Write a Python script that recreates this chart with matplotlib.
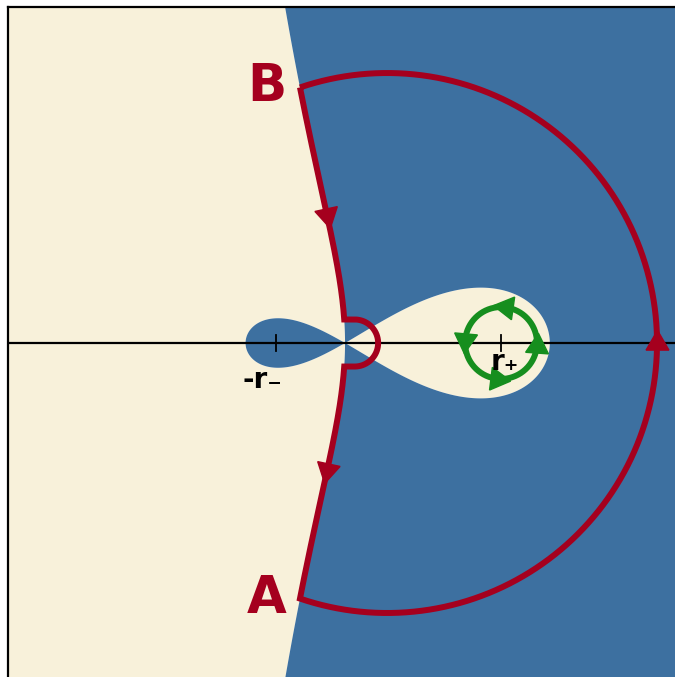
import numpy as np
import matplotlib
matplotlib.use("Agg")
import matplotlib.pyplot as plt

# ---------------- data ----------------
r_plus = 1.0
r_minus = 0.5
x_limits = [-2.006, 1.964]
y_limits = [-1.988, 2.000]
arc_center_x = 0.25
arc_radius = 1.607
indent_center_x = 0.057
indent_radius = 0.14
loop_center_x = 0.9286
loop_radius = 0.214
red_arrow_y = [0.762, -0.756]
green_arrow_angles = [82, 356, 263, 175]
tick_positions = [-0.4125, 0.9286]
tick_labels = ['-r\u208b', 'r\u208a']
tick_label_pos = [(-0.490, -0.268), (0.950, -0.161)]
point_labels = ['B', 'A']
point_label_pos = [(-0.467, 1.440), (-0.464, -1.607)]

cream = '#F8F1DA'
blue = '#3D70A0'
red = '#A5001E'
green = '#168E1E'


def re_tortoise(x, y):
    z = x + 1j * y
    s = r_plus + r_minus
    with np.errstate(divide='ignore', invalid='ignore'):
        v = (np.real(z) + r_plus ** 2 / s * np.log(np.abs(1 - z / r_plus))
             - r_minus ** 2 / s * np.log(np.abs(1 + z / r_minus)))
    return np.clip(np.nan_to_num(v, nan=0.0, posinf=50, neginf=-50), -50, 50)


fig = plt.figure(figsize=(6.75, 6.77), dpi=100)
ax = fig.add_axes([8 / 675, 0, 1 - 8 / 675, 670 / 677])
ax.set_xlim(*x_limits)
ax.set_ylim(*y_limits)

xs = np.linspace(x_limits[0], x_limits[1], 1500)
ys = np.linspace(y_limits[0], y_limits[1], 1500)
X, Y = np.meshgrid(xs, ys)
Z = re_tortoise(X, Y)
ax.contourf(X, Y, Z, levels=[-1e3, 0, 1e3], colors=[cream, blue], antialiased=True, zorder=0)

# axis line and ticks
ax.axhline(0, color='black', lw=1.6, zorder=2)
for t in tick_positions:
    ax.plot([t, t], [-0.045, 0.045], color='black', lw=1.3, zorder=2)

# ----- boundary Re r* = 0 (upper left branch) -----
yy = np.linspace(indent_radius, 2.2, 600)
lo = -0.15 - 0.3 * yy
hi = np.full_like(yy, 0.03)
for _ in range(60):
    mid = 0.5 * (lo + hi)
    neg = re_tortoise(mid, yy) < 0
    lo = np.where(neg, mid, lo)
    hi = np.where(neg, hi, mid)
xx = 0.5 * (lo + hi)
d = np.hypot(xx - arc_center_x, yy) - arc_radius
k = np.argmax(d > 0)
f = -d[k - 1] / (d[k] - d[k - 1])
xB = xx[k - 1] + f * (xx[k] - xx[k - 1])
yB = yy[k - 1] + f * (yy[k] - yy[k - 1])
cx = np.append(xx[:k], xB)
cy = np.append(yy[:k], yB)

thB = np.arctan2(yB, xB - arc_center_x)
t_ind = np.linspace(np.pi / 2, -np.pi / 2, 80)
t_arc = np.linspace(-thB, thB, 400)

px = np.concatenate([cx[::-1], [indent_center_x], indent_center_x + indent_radius * np.cos(t_ind),
                     [indent_center_x], cx, arc_center_x + arc_radius * np.cos(t_arc)])
py = np.concatenate([cy[::-1], [indent_radius], indent_radius * np.sin(t_ind),
                     [-indent_radius], -cy, arc_radius * np.sin(t_arc)])
ax.plot(px, py, color=red, lw=4.3, solid_joinstyle='miter', solid_capstyle='butt', zorder=3)

# red arrowheads
for ya in red_arrow_y:
    yab = abs(ya)
    xa = np.interp(yab, cy, cx)
    xa_low = np.interp(yab - 0.05, cy, cx)
    xa_high = np.interp(yab + 0.05, cy, cx)
    if ya > 0:
        dx, dy = xa_low - xa_high, -0.1
    else:
        dx, dy = xa_high - xa_low, -0.1
    ang = np.degrees(np.arctan2(dy, dx))
    ax.plot(xa, ya, marker=(3, 0, ang - 90), ms=19, color=red, mec=red, zorder=4)
ax.plot(arc_center_x + arc_radius, 0, marker=(3, 0, 0), ms=19, color=red, mec=red, zorder=4)

# green loop around r+
tl = np.linspace(0, 2 * np.pi, 300)
ax.plot(loop_center_x + loop_radius * np.cos(tl), loop_radius * np.sin(tl), color=green, lw=4.3, zorder=5)
for a in green_arrow_angles:
    ar = np.radians(a)
    ax.plot(loop_center_x + loop_radius * np.cos(ar), loop_radius * np.sin(ar), marker=(3, 0, a),
            ms=19, color=green, mec=green, zorder=6)

# labels
for lab, (lx, ly) in zip(point_labels, point_label_pos):
    ax.text(lx, ly, lab, color=red, fontsize=37, fontweight='bold', ha='center', va='baseline', zorder=7)
for lab, (lx, ly) in zip(tick_labels, tick_label_pos):
    ax.text(lx, ly, lab, fontsize=20, fontweight='bold', ha='center', va='baseline', zorder=7)

ax.set_xticks([])
ax.set_yticks([])
for s in ['right', 'bottom']:
    ax.spines[s].set_visible(False)
for s in ['left', 'top']:
    ax.spines[s].set_linewidth(1.6)

fig.savefig('out.png', dpi=100)
